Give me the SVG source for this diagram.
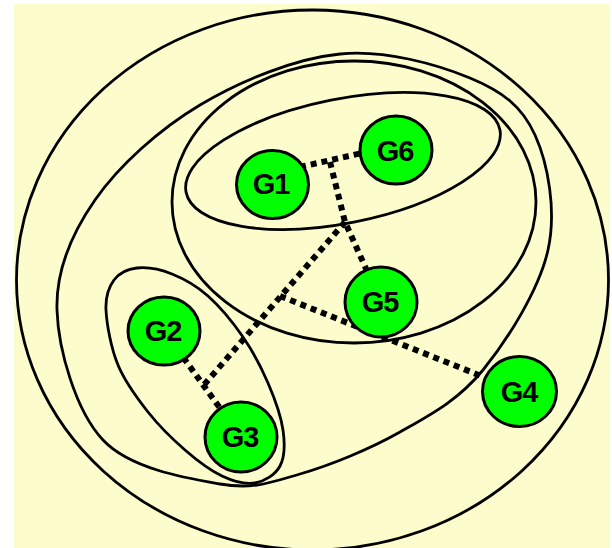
<svg xmlns="http://www.w3.org/2000/svg" width="612" height="548" viewBox="0 0 612 548">
<style>
.cl{fill:none;stroke:#000;stroke-width:2.8}
.ed{fill:none;stroke:#000;stroke-width:6;stroke-dasharray:6 5}
.nd{fill:#00FF00;stroke:#000;stroke-width:3}
.lb{font-family:"Liberation Sans",Arial,sans-serif;font-weight:bold;font-size:29px;text-anchor:middle;fill:#000;letter-spacing:-1px}
</style>
<rect x="0" y="0" width="612" height="548" fill="#fff"/>
<rect x="14" y="4" width="596" height="544" fill="#FCFCCC"/>
<g id="clusters">
<ellipse class="cl" cx="312.5" cy="280" rx="296" ry="270"/>
<path class="cl" d="M340,54 C385,49.5 437.5,64.5 470,78 C502.5,91.5 522,106.3 535,135 C548,163.7 556.7,210.8 548,250 C539.3,289.2 507.7,339.7 483,370 C458.3,400.3 430.5,414.7 400,432 C369.5,449.3 330,465.3 300,474 C270,482.7 252.8,489.7 220,484 C187.2,478.3 130.2,469 103,440 C75.8,411 58.3,350 57,310 C55.7,270 71.2,234.2 95,200 C118.8,165.8 159.2,129.3 200,105 C240.8,80.7 295,58.5 340,54 Z"/>
<ellipse class="cl" cx="354" cy="202" rx="182" ry="141"/>
<ellipse class="cl" cx="343" cy="161" rx="160" ry="62" transform="rotate(-11.3 343 161)"/>
<path class="cl" d="M137,268 C146.7,267 160.2,269.3 172,274 C183.8,278.7 196.2,285.5 208,296 C219.8,306.5 233,322.5 243,337 C253,351.5 261.3,367.5 268,383 C274.7,398.5 281,416.2 283,430 C285,443.8 284.7,457.2 280,466 C275.3,474.8 264.7,481.3 255,483 C245.3,484.7 233.7,481.5 222,476 C210.3,470.5 197.3,460.7 185,450 C172.7,439.3 159.2,426.2 148,412 C136.8,397.8 125,382 118,365 C111,348 106.7,324.2 106,310 C105.3,295.8 108.8,287 114,280 C119.2,273 127.3,269 137,268 Z"/>
</g>
<g id="connectors">
<path class="ed" d="M300,167 L362,153"/>
<path class="ed" d="M330,162 L345,222 L381,302"/>
<path class="ed" d="M345,222 L203,386"/>
<path class="ed" d="M164,331 L241,437"/>
<path class="ed" d="M280,296 L519,391"/>
</g>
<g id="G1"><ellipse class="nd" cx="272.5" cy="184.5" rx="36" ry="34"/><text class="lb" x="271" y="194">G1</text></g>
<g id="G6"><ellipse class="nd" cx="396" cy="150" rx="36" ry="34"/><text class="lb" x="395" y="161">G6</text></g>
<g id="G5"><ellipse class="nd" cx="381" cy="302" rx="36" ry="35"/><text class="lb" x="380" y="312">G5</text></g>
<g id="G2"><ellipse class="nd" cx="164" cy="331" rx="36" ry="34"/><text class="lb" x="163" y="341">G2</text></g>
<g id="G3"><ellipse class="nd" cx="241" cy="437" rx="36" ry="35"/><text class="lb" x="240" y="447">G3</text></g>
<g id="G4"><ellipse class="nd" cx="519.5" cy="391.5" rx="37" ry="35"/><text class="lb" x="519" y="402">G4</text></g>
</svg>
